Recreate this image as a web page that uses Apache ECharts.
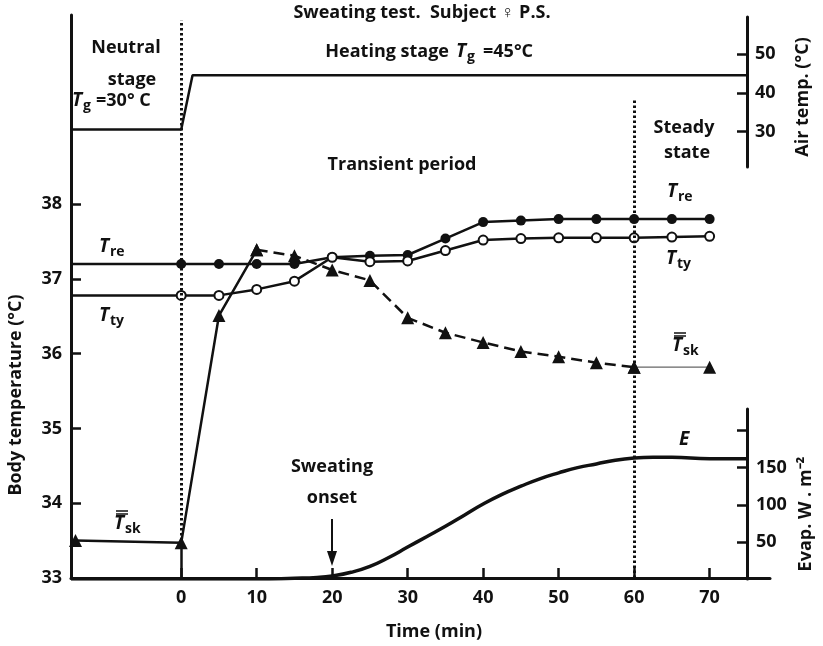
<!DOCTYPE html>
<html>
<head>
<meta charset="utf-8">
<script src="https://cdn.jsdelivr.net/npm/echarts@6/dist/echarts.min.js"></script>
<style>
  html, body { margin: 0; padding: 0; background: #fff; }
  #chart { width: 823px; height: 646px; }
</style>
</head>
<body>
<div id="chart"></div>
<script>
// --- data ---
const timeQ = [0, 5, 10, 15, 20, 25, 30, 35, 40, 45, 50, 55, 60, 65, 70];
const tre = [37.2, 37.2, 37.2, 37.2, 37.29, 37.31, 37.32, 37.54, 37.76, 37.78, 37.8, 37.8, 37.8, 37.8, 37.8];
const tty = [36.78, 36.78, 36.86, 36.97, 37.29, 37.23, 37.24, 37.38, 37.52, 37.54, 37.55, 37.55, 37.55, 37.56, 37.57];

const tskTime = [-14, 0, 5, 10, 15, 20, 25, 30, 35, 40, 45, 50, 55, 60, 70];
const tskVal = [33.5, 33.47, 36.51, 37.39, 37.31, 37.12, 36.98, 36.48, 36.28, 36.15, 36.03, 35.96, 35.88, 35.82, 35.82];

const airTime = [-14.6, 0, 1.5, 75];
const airVal = [30.5, 30.5, 44.5, 44.5];

const eTime = [-14.6, 0, 10, 15, 18, 20, 22.5, 25, 27.5, 30, 32.5, 35, 37.5, 40, 42.5, 45, 47.5, 50, 52.5, 55, 57.5, 60, 62.5, 65, 70, 75];
const eVal = [0, 0, 0, 1, 2, 4, 9, 17, 29, 43, 57, 71, 86, 101, 114, 125, 135, 143, 150, 155, 160, 163, 164, 164, 162, 162];

const xTicks = [0, 10, 20, 30, 40, 50, 60, 70];
const bodyTicks = [34, 35, 36, 37, 38];
const bodyLabels = [33, 34, 35, 36, 37, 38];
const airTicks = [30, 40, 50];
const evapTicks = [50, 100, 150, 200];
const evapLabels = [50, 100, 150];

const X_MIN = -14.6, X_MAX = 78;
const INK = '#111';
const FONT = '"Open Sans"';

const pairs = (xs, ys) => ys.map((v, i) => [xs[i], v]);

// italic T with a subscript (and optional double overbar for mean skin temp)
function tSub(x, y, sub, bars) {
  const els = [
    { type: 'text', x: x, y: y, style: { text: 'T', font: 'italic bold 19px ' + FONT, fill: INK, align: 'left', verticalAlign: 'middle' } },
    { type: 'text', x: x + 11, y: y + 5, style: { text: sub, font: 'bold 14px ' + FONT, fill: INK, align: 'left', verticalAlign: 'middle' } }
  ];
  if (bars) {
    els.push({ type: 'line', shape: { x1: x + 2, y1: y - 10, x2: x + 14, y2: y - 10 }, style: { stroke: INK, lineWidth: 1.5 } });
    els.push({ type: 'line', shape: { x1: x + 2, y1: y - 13, x2: x + 14, y2: y - 13 }, style: { stroke: INK, lineWidth: 1.5 } });
  }
  return els;
}

function txt(x, y, s, size, align, rot) {
  return {
    type: 'text', x: x, y: y, rotation: rot || 0,
    style: { text: s, font: 'bold ' + size + 'px ' + FONT, fill: INK, align: align || 'center', verticalAlign: 'middle' }
  };
}

const labelStyle = { fontSize: 18, fontWeight: 'bold', fontFamily: 'Open Sans', color: INK };
const tickLine = { color: INK, width: 2.5 };
const axisLine = { show: true, onZero: false, lineStyle: { color: INK, width: 3 } };

const chart = echarts.init(document.getElementById('chart'));

chart.setOption({
  animation: false,
  backgroundColor: '#fff',
  grid: [
    { left: 71, top: 15, width: 699, height: 563 },   // body temperature
    { left: 71, top: 17, width: 699, height: 150 },   // air temp
    { left: 71, top: 409, width: 699, height: 170 }   // evaporation
  ],
  xAxis: [
    {
      type: 'value', gridIndex: 0, min: X_MIN, max: X_MAX,
      axisLine: axisLine,
      axisTick: { show: true, inside: true, length: 10, lineStyle: tickLine, customValues: xTicks },
      axisLabel: Object.assign({ margin: 11, customValues: xTicks }, labelStyle),
      splitLine: { show: false }
    },
    { type: 'value', gridIndex: 1, min: X_MIN, max: X_MAX, show: false },
    { type: 'value', gridIndex: 2, min: X_MIN, max: X_MAX, show: false }
  ],
  yAxis: [
    {
      type: 'value', gridIndex: 0, min: 33, max: 40.53,
      axisLine: axisLine,
      axisTick: { show: true, inside: true, length: 10, lineStyle: tickLine, customValues: bodyTicks },
      axisLabel: Object.assign({ margin: 9, customValues: bodyLabels }, labelStyle),
      splitLine: { show: false }
    },
    {
      type: 'value', gridIndex: 1, position: 'right', offset: -23, min: 20.84, max: 59.55,
      axisLine: axisLine,
      axisTick: { show: true, inside: true, length: 10, lineStyle: tickLine, customValues: airTicks },
      axisLabel: Object.assign({ margin: 8, customValues: airTicks }, labelStyle),
      splitLine: { show: false }
    },
    {
      type: 'value', gridIndex: 2, position: 'right', offset: -23, min: 0, max: 229,
      axisLine: axisLine,
      axisTick: { show: true, inside: true, length: 10, lineStyle: tickLine, customValues: evapTicks },
      axisLabel: Object.assign({ margin: 9, customValues: evapLabels }, labelStyle),
      splitLine: { show: false }
    }
  ],
  series: [
    {
      name: 'Tre', type: 'line', xAxisIndex: 0, yAxisIndex: 0,
      data: [{ value: [X_MIN, tre[0]], symbol: 'none' }].concat(pairs(timeQ, tre)),
      symbol: 'circle', symbolSize: 10, showAllSymbol: true,
      lineStyle: { color: INK, width: 2.5 }, itemStyle: { color: INK },
      markLine: {
        silent: true, symbol: 'none', label: { show: false },
        lineStyle: { type: [2.5, 2.5], color: INK, width: 3 },
        data: [
          [{ coord: [0, 33.5] }, { coord: [0, 40.46] }],
          [{ coord: [60, 33] }, { coord: [60, 39.4] }]
        ]
      },
      z: 4
    },
    {
      name: 'Tty', type: 'line', xAxisIndex: 0, yAxisIndex: 0,
      data: [{ value: [X_MIN, tty[0]], symbol: 'none' }].concat(pairs(timeQ, tty)),
      symbol: 'emptyCircle', symbolSize: 9, showAllSymbol: true,
      lineStyle: { color: INK, width: 2.5 }, itemStyle: { color: INK, borderWidth: 2.5 },
      z: 4
    },
    {
      name: 'Tsk', type: 'line', xAxisIndex: 0, yAxisIndex: 0,
      data: pairs(tskTime, tskVal).slice(0, 4),
      symbol: 'triangle', symbolSize: 13,
      lineStyle: { color: INK, width: 2.5 }, itemStyle: { color: INK },
      markLine: {
        silent: true, symbol: 'none', label: { show: false },
        lineStyle: { type: 'solid', color: INK, width: 2.5 },
        data: [[{ coord: [0, 33] }, { coord: [0, 33.45] }]]
      },
      z: 3
    },
    {
      name: 'Tsk dashed', type: 'line', xAxisIndex: 0, yAxisIndex: 0,
      data: pairs(tskTime, tskVal).slice(3, 14),
      symbol: 'triangle', symbolSize: 13,
      lineStyle: { color: INK, width: 2.5, type: [11, 6] }, itemStyle: { color: INK },
      z: 3
    },
    {
      name: 'Tsk tail', type: 'line', xAxisIndex: 0, yAxisIndex: 0,
      data: pairs(tskTime, tskVal).slice(13),
      symbol: 'triangle', symbolSize: 13,
      lineStyle: { color: '#666', width: 1.3 }, itemStyle: { color: INK },
      z: 3
    },
    {
      name: 'Air', type: 'line', xAxisIndex: 1, yAxisIndex: 1,
      data: pairs(airTime, airVal), symbol: 'none',
      lineStyle: { color: INK, width: 2.5 }
    },
    {
      name: 'E', type: 'line', xAxisIndex: 2, yAxisIndex: 2,
      data: pairs(eTime, eVal), symbol: 'none', smooth: 0.5,
      lineStyle: { color: INK, width: 3.5 }
    }
  ],
  graphic: [
    txt(422, 13, 'Sweating test.  Subject \u2640 P.S.', 18),
    txt(449, 52, 'Heating stage', 18, 'right'),
    ...tSub(456, 52, 'g'),
    txt(483, 52, '=45\u00b0C', 18, 'left'),
    txt(126, 48, 'Neutral', 18),
    txt(132, 80, 'stage', 18),
    ...tSub(72, 101, 'g'),
    txt(96, 101, '=30\u00b0 C', 18, 'left'),
    txt(402, 165, 'Transient period', 18),
    txt(684, 128, 'Steady', 18),
    txt(687, 153, 'state', 18),
    ...tSub(99, 247, 're'),
    ...tSub(99, 316, 'ty'),
    ...tSub(114, 524, 'sk', true),
    ...tSub(667, 192, 're'),
    ...tSub(666, 259, 'ty'),
    ...tSub(672, 346, 'sk', true),
    { type: 'text', x: 679, y: 440, style: { text: 'E', font: 'italic bold 19px ' + FONT, fill: INK, align: 'left', verticalAlign: 'middle' } },
    txt(332, 467, 'Sweating', 18),
    txt(332, 498, 'onset', 18),
    { type: 'line', shape: { x1: 332, y1: 519, x2: 332, y2: 555 }, style: { stroke: INK, lineWidth: 2 } },
    { type: 'polygon', shape: { points: [[327, 551], [337, 551], [332, 566]] }, style: { fill: INK } },
    txt(434, 632, 'Time (min)', 18),
    txt(16, 395, 'Body temperature (\u00b0C)', 18, 'center', Math.PI / 2),
    txt(803, 97, 'Air temp. (\u00b0C)', 18, 'center', Math.PI / 2),
    txt(806, 514, 'Evap. W . m\u207b\u00b2', 18, 'center', Math.PI / 2)
  ]
});
</script>
</body>
</html>
